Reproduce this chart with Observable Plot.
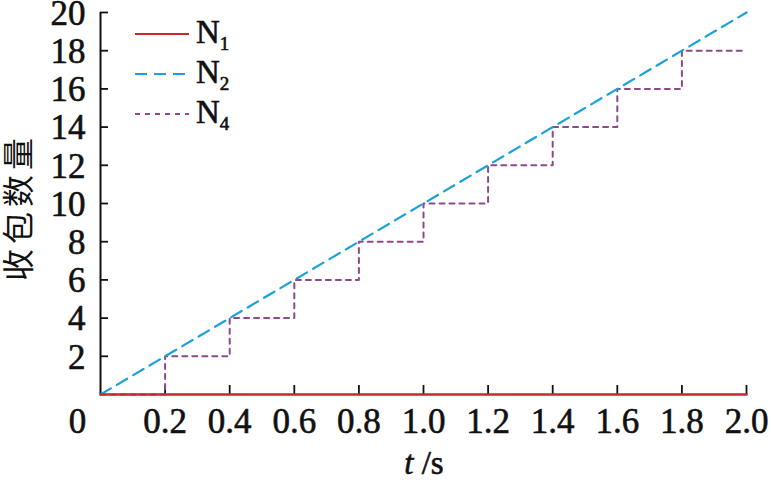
<!DOCTYPE html>
<html><head><meta charset="utf-8">
<script src="https://cdn.jsdelivr.net/npm/d3@7"></script>
<script src="https://cdn.jsdelivr.net/npm/@observablehq/plot@0.6"></script>
<style>
body{margin:0;background:#fff;}
#wrap{position:relative;width:771px;height:480px;font-family:"Liberation Serif",serif;}
#legend{position:absolute;left:133px;top:14px;}
.li{display:flex;align-items:center;height:40px;font-size:33px;color:#111;-webkit-text-stroke:0.6px #111;}
.li svg{margin-right:5px;}
sub{font-size:19px;vertical-align:-7px;}
</style></head><body>
<div id="wrap"><div id="chart"></div><div id="legend"></div></div>
<script>
const tN4 = [0, 0.2, 0.4, 0.6, 0.8, 1.0, 1.2, 1.4, 1.6, 1.8, 2.0];
const vN4 = [0, 2, 4, 6, 8, 10, 12, 14, 16, 18, 18];
const tN2 = [0, 2.0];
const vN2 = [0, 20];
const tN1 = [0, 2.0];
const vN1 = [0, 0];
const xTicks = [0.2, 0.4, 0.6, 0.8, 1.0, 1.2, 1.4, 1.6, 1.8, 2.0];
const yTicks = [2, 4, 6, 8, 10, 12, 14, 16, 18, 20];
const series = [
  {name: "N", sub: "1", color: "#c8282e", dash: null},
  {name: "N", sub: "2", color: "#1ba1d9", dash: "12,7"},
  {name: "N", sub: "4", color: "#8c4a88", dash: "5,5"}
];
const d1 = tN1.map((t, i) => ({t, v: vN1[i]}));
const d2 = tN2.map((t, i) => ({t, v: vN2[i]}));
const d4 = tN4.map((t, i) => ({t, v: vN4[i]}));

const FS = 35;
const txt = {fontSize: FS, fill: "#111", stroke: "#111", strokeWidth: 0.6, fontFamily: "Liberation Serif, serif"};
const chart = Plot.plot({
  width: 771, height: 480,
  marginLeft: 100, marginRight: 25, marginTop: 12, marginBottom: 86,
  style: {fontFamily: "Liberation Serif, serif", color: "#111", background: "#fff", overflow: "visible"},
  x: {domain: [0, 2], label: null, axis: null},
  y: {domain: [0, 20], label: null, axis: null},
  marks: [
    Plot.ruleX([0], {stroke: "#111", strokeWidth: 2}),
    Plot.axisY(yTicks, {tickSize: -8, tickFormat: () => "", strokeWidth: 1.8, stroke: "#111"}),
    Plot.axisX(xTicks, {tickSize: -9, tickFormat: () => "", strokeWidth: 1.8, stroke: "#111"}),
    Plot.text(yTicks, {x: 0, y: d => d, text: d => String(d), dx: -15, dy: 1, textAnchor: "end", ...txt}),
    Plot.text(xTicks, {x: d => d, y: 0, text: d => d.toFixed(1), dy: 27, ...txt}),
    Plot.text([0], {x: 0, y: 0, text: d => String(d), dx: -23, dy: 27, ...txt}),
    Plot.line(d4, {x: "t", y: "v", curve: "step-after", stroke: series[2].color, strokeWidth: 2, strokeDasharray: series[2].dash}),
    Plot.line(d2, {x: "t", y: "v", stroke: series[1].color, strokeWidth: 2.2, strokeDasharray: series[1].dash}),
    Plot.line(d1, {x: "t", y: "v", stroke: series[0].color, strokeWidth: 2.5})
  ]
});
document.getElementById("chart").appendChild(chart);

// axis titles
const svg = d3.select(chart);
svg.append("text").attr("transform", "translate(30,207) rotate(-90)")
  .attr("text-anchor", "middle").attr("font-family", "Noto Sans CJK SC, sans-serif")
  .attr("font-size", 32).attr("letter-spacing", 5).attr("fill", "#111").text("收包数量");
const xl = svg.append("text").attr("x", 424).attr("y", 474).attr("text-anchor", "middle")
  .attr("font-size", 33).attr("fill", "#111").attr("stroke", "#111").attr("stroke-width", 0.6)
  .attr("font-family", "Liberation Serif, serif");
xl.append("tspan").attr("font-style", "italic").text("t");
xl.append("tspan").text(" /s");

const lg = document.getElementById("legend");
series.forEach(s => {
  const row = document.createElement("div");
  row.className = "li";
  row.innerHTML = `<svg width="58" height="10"><line x1="2" x2="56" y1="5" y2="5" stroke="${s.color}" stroke-width="2.2" ${s.dash ? `stroke-dasharray="${s.dash}"` : ""}/></svg><span>${s.name}<sub>${s.sub}</sub></span>`;
  lg.appendChild(row);
});
</script>
</body></html>
